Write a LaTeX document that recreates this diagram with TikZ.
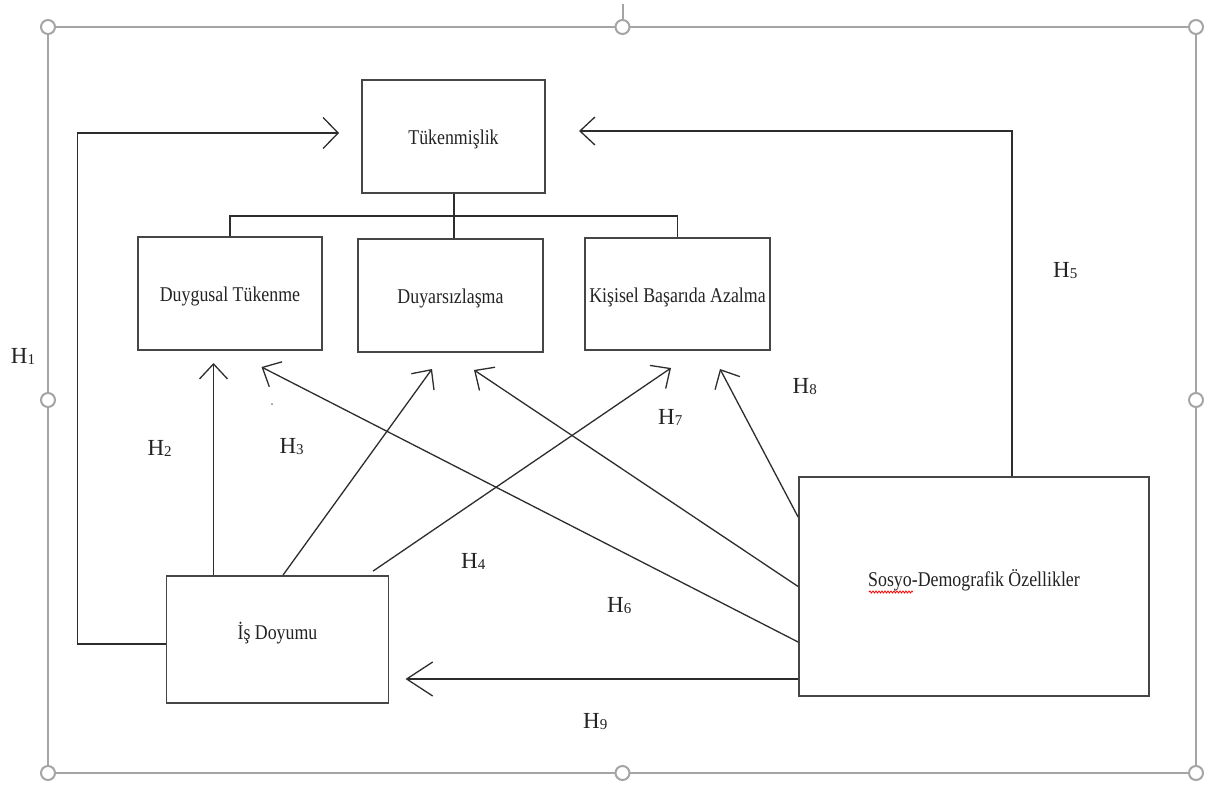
\documentclass[tikz,border=0pt]{standalone}
\usepackage{fontspec}
\setmainfont{Liberation Serif}
\newfontfamily\boxfont[FakeStretch=0.85]{Liberation Serif}
\usetikzlibrary{arrows.meta,calc,decorations.pathmorphing}
\definecolor{framec}{RGB}{165,165,165}
\definecolor{boxc}{RGB}{70,70,70}
\definecolor{linec}{RGB}{45,45,45}
\definecolor{txtc}{RGB}{35,35,35}
\newcommand{\hl}[1]{H{\fontsize{15}{15}\selectfont\raisebox{-1.5pt}{#1}}}
\begin{document}
\begin{tikzpicture}[x=1pt,y=-1pt,
  box/.style={draw=boxc, line width=1.8pt, inner sep=0pt, text=txtc,
    font=\boxfont\fontsize{21}{21}\selectfont, text height=20.5pt, text depth=4.2pt},
  conn/.style={draw=linec, line width=1.3pt},
  arr/.style={conn, -{Straight Barb[length=15pt,width=28pt]}},
  hlab/.style={anchor=base west, inner sep=0pt, text=txtc, font=\fontsize{23}{23}\selectfont},
  frame/.style={draw=framec, line width=2pt},
  handle/.style={draw=framec, fill=white, line width=2pt}]
\useasboundingbox (0,0) rectangle (1206,787);
\fill[white] (0,0) rectangle (1206,787);

% selection frame
\draw[frame] (48,27) rectangle (1196,773);
\draw[frame] (622.5,4) -- (622.5,20);
\foreach \p in {(48,27),(622.5,27),(1196,27),(48,400),(1196,400),(48,773),(622.5,773),(1196,773)}
  \draw[handle] \p circle (7pt);

% boxes
\node[box, minimum width=183pt, minimum height=113pt] (tuk) at (453.5,136.5) {Tükenmişlik};
\node[box, minimum width=184.5pt, minimum height=113pt] (dt) at (230,293.5) {Duygusal Tükenme};
\node[box, minimum width=185pt, minimum height=113pt] (dy) at (450.5,295.5) {Duyarsızlaşma};
\node[box, minimum width=185pt, minimum height=112pt] (kb) at (677.5,294) {Kişisel Başarıda Azalma};
\node[box, minimum width=222pt, minimum height=127pt] (isd) at (277.5,639.5) {\raisebox{8pt}[\height][\depth]{İş Doyumu}};
\node[box, minimum width=350pt, minimum height=219pt] (sdo) at (974,586.5) {\raisebox{8.5pt}[\height][\depth]{Sosyo-Demografik Özellikler}};

% spelling squiggle
\draw[red, line width=0.8pt, decorate, decoration={snake, amplitude=1pt, segment length=3pt}] (869,592) -- (913,592);

% tree connectors
\coordinate (bus) at (454,216);
\draw[conn] (tuk.south -| bus) -- (dy.north -| bus);
\draw[conn] (dt.north) |- (bus) -| (kb.north);

% helper coordinates
\coordinate (h1a) at (77.5,644);
\coordinate (h1tip) at (339,133);
\coordinate (h5a) at (1012,131);
\coordinate (h5tip) at (579,131);
\coordinate (h9tip) at (405.5,679);
\coordinate (h2tip) at (213.5,363);
\coordinate (tdtS) at (261.5,367);
\coordinate (tdyI) at (432,369);
\coordinate (tdyS) at (474,370);
\coordinate (tkbI) at (671,368);
\coordinate (tkbS) at (720,369);

% arrows
\draw[arr, -{Straight Barb[length=15pt,width=31pt]}] (isd.west |- h1a) -- (h1a) |- (h1tip);
\draw[arr] (sdo.north -| h5a) -- (h5a) -- (h5tip);
\draw[arr, -{Straight Barb[length=26pt,width=34pt]}] (sdo.west |- h9tip) -- (h9tip);
\draw[arr] (isd.north -| h2tip) -- (h2tip);
\draw[arr] ([xshift=5.5pt]isd.north) -- (tdyI);
\draw[arr] ([xshift=95.5pt,yshift=4pt]isd.north) -- (tkbI);
\draw[arr] ([yshift=-55.5pt]sdo.west) -- (tdtS);
\draw[arr] (sdo.west) -- (tdyS);
\draw[arr] ([yshift=69.5pt]sdo.west) -- (tkbS);

% stray dot
\fill[gray] (272,404) circle (1pt);

% labels
\node[hlab] (l1) at (10.7,363.3) {\hl{1}};
\node[hlab] (l2) at (147.3,455) {\hl{2}};
\node[hlab] (l3) at (279.4,453.3) {\hl{3}};
\node[hlab] (l4) at (461,568) {\hl{4}};
\node[hlab] (l5) at (1053,277) {\hl{5}};
\node[hlab] (l6) at (607,612) {\hl{6}};
\node[hlab] (l7) at (658,424) {\hl{7}};
\node[hlab] (l8) at (792.5,393) {\hl{8}};
\node[hlab] (l9) at (583,728) {\hl{9}};
\end{tikzpicture}
\end{document}
